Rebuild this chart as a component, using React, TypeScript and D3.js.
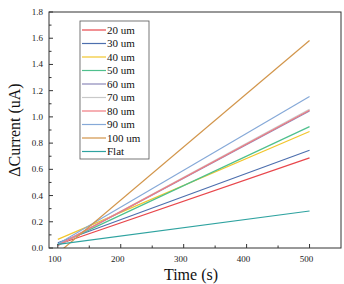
import * as d3 from "d3";

const seriesNames = ["20 um", "30 um", "40 um", "50 um", "60 um", "70 um", "80 um", "90 um", "100 um", "Flat"];
const seriesColors = ["#e8474c", "#4d6fae", "#f2c62c", "#4fc08d", "#8c89b9", "#c9c9c9", "#f07a80", "#86a9d8", "#d2954a", "#2fa3a0"];
// value at t = 100 s and t = 500 s
const startValues = [0.027, 0.04, 0.066, 0.026, 0.02, 0.02, 0.02, 0.03, -0.04, 0.028];
const endValues = [0.687, 0.746, 0.888, 0.926, 1.045, 1.058, 1.05, 1.155, 1.583, 0.282];
const timePoints = [100, 500];
const xTicks = [100, 200, 300, 400, 500];
const yTicks = [0, 0.2, 0.4, 0.6, 0.8, 1.0, 1.2, 1.4, 1.6, 1.8];

const W = 344;
const H = 284;
const margin = { top: 12, right: 3, bottom: 36, left: 49 };
const font = "Liberation Serif, DejaVu Serif, Times New Roman, serif";

export default function App() {
  const x = d3.scaleLinear().domain([86, 550]).range([margin.left, W - margin.right]);
  const y = d3.scaleLinear().domain([0, 1.8]).range([H - margin.bottom, margin.top]);
  const line = d3
    .line<[number, number]>()
    .x((d) => x(d[0]))
    .y((d) => y(d[1]));

  const minorX = d3.range(150, 550, 100);
  const minorY = d3.range(0.1, 1.8, 0.2);
  const x0 = margin.left;
  const x1 = W - margin.right;
  const y0 = H - margin.bottom;
  const y1 = margin.top;

  const lg = { x: 80, y: 21, w: 69, h: 138, row: 13.5 };

  return (
    <div style={{ position: "absolute", left: 0, top: 0 }}>
      <svg width={W} height={H} style={{ display: "block", background: "#fff", fontFamily: font }}>
        <defs>
          <clipPath id="plot-clip">
            <rect x={x0} y={y1} width={x1 - x0} height={y0 - y1} />
          </clipPath>
        </defs>

        <g clipPath="url(#plot-clip)">
          {seriesNames.map((name, i) => (
            <path
              key={name}
              d={line(timePoints.map((t, k) => [t, k === 0 ? startValues[i] : endValues[i]] as [number, number])) ?? ""}
              fill="none"
              stroke={seriesColors[i]}
              strokeWidth={1.2}
            />
          ))}
        </g>

        <rect x={x0} y={y1} width={x1 - x0} height={y0 - y1} fill="none" stroke="#333" strokeWidth={1} />

        {xTicks.map((t) => (
          <g key={t}>
            <line x1={x(t)} x2={x(t)} y1={y0} y2={y0 - 4} stroke="#333" />
            <text x={x(t) - 3} y={y0 + 14} textAnchor="middle" fontSize={9} fill="#222" style={{ fontFamily: font }}>
              {t}
            </text>
          </g>
        ))}
        {minorX.map((t) => (
          <line key={t} x1={x(t)} x2={x(t)} y1={y0} y2={y0 - 2.5} stroke="#333" />
        ))}
        {yTicks.map((v) => (
          <g key={v}>
            <line x1={x0} x2={x0 + 4} y1={y(v)} y2={y(v)} stroke="#333" />
            <text x={x0 - 6} y={y(v) + 3} textAnchor="end" fontSize={9} fill="#222" style={{ fontFamily: font }}>
              {v.toFixed(1)}
            </text>
          </g>
        ))}
        {minorY.map((v) => (
          <line key={v} x1={x0} x2={x0 + 2.5} y1={y(v)} y2={y(v)} stroke="#333" />
        ))}

        <text x={(x0 + x1) / 2 - 4} y={H - 4} textAnchor="middle" fontSize={16} fill="#111" style={{ fontFamily: font }}>
          Time (s)
        </text>
        <text
          transform={`translate(20,${(y0 + y1) / 2}) rotate(-90)`}
          textAnchor="middle"
          fontSize={16}
          fill="#111"
          style={{ fontFamily: font }}
        >
          ΔCurrent (uA)
        </text>

        <rect x={lg.x} y={lg.y} width={lg.w} height={lg.h} fill="#fff" stroke="#555" strokeWidth={0.8} />
        {seriesNames.map((name, i) => {
          const ly = lg.y + 9 + i * lg.row;
          return (
            <g key={name}>
              <line x1={lg.x + 2} x2={lg.x + 26} y1={ly} y2={ly} stroke={seriesColors[i]} strokeWidth={1.2} />
              <text x={lg.x + 27} y={ly + 3.5} fontSize={11} fill="#111" style={{ fontFamily: font }}>
                {name}
              </text>
            </g>
          );
        })}
      </svg>
    </div>
  );
}
